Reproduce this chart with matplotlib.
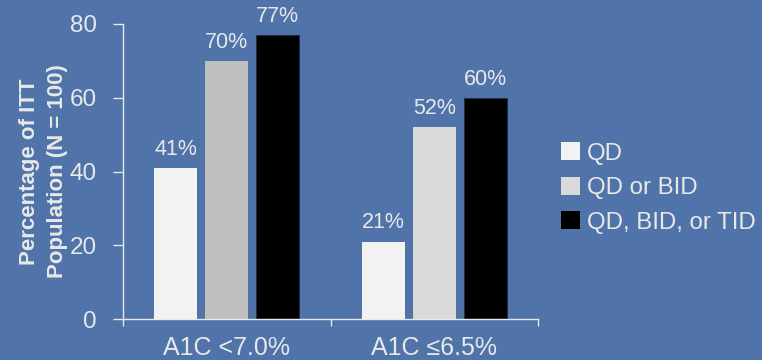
import numpy as np
import matplotlib.pyplot as plt

plt.rcParams['font.family'] = ['Liberation Sans', 'DejaVu Sans']

categories = ["A1C <7.0%", "A1C \u22646.5%"]
series_names = ["QD", "QD or BID", "QD, BID, or TID"]
qd = [41, 21]
qd_bid = [70, 52]
qd_bid_tid = [77, 60]

bg = "#5074a9"
fg = "#e8e8e8"
bar_colors = [["#f2f2f2", "#f2f2f2"],
              ["#bfbfbf", "#d9d9d9"],
              ["#000000", "#000000"]]
legend_colors = ["#f2f2f2", "#d9d9d9", "#000000"]

fig = plt.figure(figsize=(7.62, 3.6), dpi=100, facecolor=bg)
ax = fig.add_axes([123 / 762, 1 - 319 / 360, (538 - 123) / 762, (319 - 24) / 360])
ax.set_facecolor(bg)

x = np.arange(len(categories)) + 0.5
width = 0.207
step = 0.245
for i, vals in enumerate([qd, qd_bid, qd_bid_tid]):
    pos = x + (i - 1) * step
    edge = "#1f2f4a" if i == 2 else "none"
    ax.bar(pos, vals, width, color=bar_colors[i], edgecolor=edge,
           linewidth=0.8, label=series_names[i])
    for p, v in zip(pos, vals):
        ax.text(p, v + 2.2, f"{v}%", ha="center", va="bottom",
                fontsize=15.5, color=fg)

ax.set_xlim(0, 2)
ax.set_ylim(0, 80)
ax.set_yticks([0, 20, 40, 60, 80])
ax.set_xticks([0, 1, 2])
ax.set_xticklabels([])
ax.set_xticks(x, minor=True)
ax.set_xticklabels(categories, minor=True)
ax.tick_params(axis="x", which="minor", length=0, pad=12.5, labelsize=18, labelcolor=fg)
ax.tick_params(axis="x", which="major", length=5, color=fg, width=1)
ax.tick_params(axis="y", length=7, color=fg, width=1, labelsize=17.5, labelcolor=fg, pad=12)

for side in ["top", "right"]:
    ax.spines[side].set_visible(False)
for side in ["left", "bottom"]:
    ax.spines[side].set_color(fg)
    ax.spines[side].set_linewidth(1)

ax.set_ylabel("Percentage of ITT\nPopulation (N = 100)", fontsize=16,
              fontweight="bold", color=fg, linespacing=1.45)
ax.yaxis.set_label_coords(-0.1325, 0.5)

handles = [plt.Rectangle((0, 0), 1, 1, facecolor=c, edgecolor="none") for c in legend_colors]
leg = fig.legend(handles, series_names, loc="center left",
                 bbox_to_anchor=(561 / 762, 1 - 188 / 360), frameon=False,
                 fontsize=17.3, handlelength=0.78, handleheight=0.78,
                 handletextpad=0.3, labelspacing=0.5, borderaxespad=0,
                 borderpad=0)
for t in leg.get_texts():
    t.set_color(fg)

fig.savefig("out.png", dpi=100, facecolor=bg)
